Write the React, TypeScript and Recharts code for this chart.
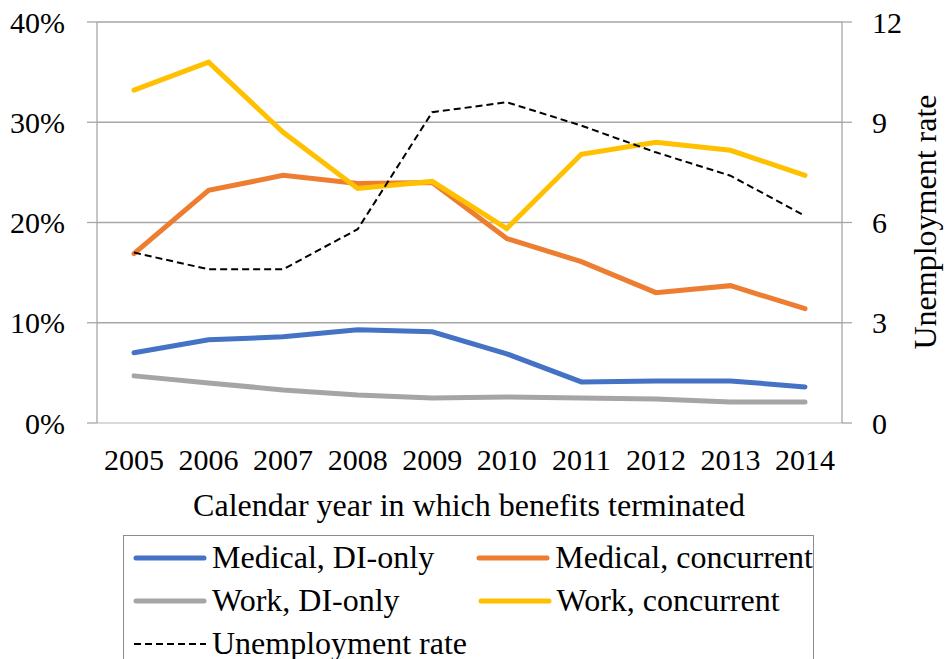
import { CartesianGrid, Legend, Line, LineChart, XAxis, YAxis } from "recharts";

const years = ["2005", "2006", "2007", "2008", "2009", "2010", "2011", "2012", "2013", "2014"];
const medicalDiOnly = [0.07, 0.083, 0.086, 0.093, 0.091, 0.069, 0.041, 0.042, 0.042, 0.036];
const medicalConcurrent = [0.169, 0.232, 0.247, 0.239, 0.24, 0.184, 0.161, 0.13, 0.137, 0.114];
const workDiOnly = [0.047, 0.04, 0.033, 0.028, 0.025, 0.026, 0.025, 0.024, 0.021, 0.021];
const workConcurrent = [0.332, 0.36, 0.29, 0.234, 0.241, 0.194, 0.268, 0.28, 0.272, 0.247];
const unemployment = [5.1, 4.6, 4.6, 5.8, 9.3, 9.6, 8.9, 8.1, 7.4, 6.2];

const leftTicks = [0, 0.1, 0.2, 0.3, 0.4];
const rightTicks = [0, 3, 6, 9, 12];

const data = years.map((year, i) => ({
	year,
	medicalDiOnly: medicalDiOnly[i],
	medicalConcurrent: medicalConcurrent[i],
	workDiOnly: workDiOnly[i],
	workConcurrent: workConcurrent[i],
	unemployment: unemployment[i],
}));

const FONT = "serif";
const TITLE_FONT = "Tinos";
const GRID = "#a6a6a6";

type LegendEntry = { label: string; color: string; dashed?: boolean };

const legendRows: LegendEntry[][] = [
	[
		{ label: "Medical, DI-only", color: "#4472c4" },
		{ label: "Medical, concurrent", color: "#ed7d31" },
	],
	[
		{ label: "Work, DI-only", color: "#a5a5a5" },
		{ label: "Work, concurrent", color: "#ffc000" },
	],
	[{ label: "Unemployment rate", color: "#000", dashed: true }],
];

function LegendSwatch({ entry }: { entry: LegendEntry }) {
	return (
		<svg width={74} height={12} style={{ marginRight: 5, flex: "none" }}>
			{entry.dashed ? (
				<line x1={1} y1={6} x2={73} y2={6} stroke="#000" strokeWidth={2} strokeDasharray="7 4" />
			) : (
				<line x1={3} y1={6} x2={71} y2={6} stroke={entry.color} strokeWidth={5} strokeLinecap="round" />
			)}
		</svg>
	);
}

function ChartLegend() {
	return (
		<div style={{ fontFamily: FONT, fontSize: 32, color: "#000" }}>
			{legendRows.map((row, r) => (
				<div key={r} style={{ display: "flex", height: 43, alignItems: "center" }}>
					{row.map((entry) => (
						<div key={entry.label} style={{ display: "flex", alignItems: "center", width: 347, paddingLeft: 9, boxSizing: "border-box" }}>
							<LegendSwatch entry={entry} />
							<span style={{ whiteSpace: "nowrap", lineHeight: "43px" }}>{entry.label}</span>
						</div>
					))}
				</div>
			))}
		</div>
	);
}

const tickStyle = { fontFamily: FONT, fontSize: 30, fill: "#000" };

export default function App() {
	return (
		<div style={{ position: "absolute", left: 0, top: 0, width: 946, height: 659, overflow: "hidden" }}>
			<LineChart width={946} height={659} data={data} margin={{ top: 22, right: 0, bottom: 136, left: 0 }}>
				<CartesianGrid vertical={false} stroke={GRID} strokeWidth={1.3} yAxisId="left" />
				<XAxis
					dataKey="year"
					height={100}
					padding={{ left: 37, right: 37 }}
					tickLine={false}
					tickSize={0}
					tickMargin={26}
					axisLine={{ stroke: "#d9d9d9", strokeWidth: 2 }}
					tick={tickStyle}
					interval={0}
					label={{
						content: () => (
							<text x={469} y={516} textAnchor="middle" fontFamily={TITLE_FONT} fontSize={32} fill="#000">
								Calendar year in which benefits terminated
							</text>
						),
					}}
				/>
				<YAxis
					yAxisId="left"
					width={97}
					domain={[0, 0.4]}
					ticks={leftTicks}
					tickFormatter={(v: number) => `${Math.round(v * 100)}%`}
					tick={tickStyle}
					tickSize={10}
					tickMargin={22}
					tickLine={{ stroke: GRID, strokeWidth: 1.3 }}
					axisLine={{ stroke: GRID, strokeWidth: 1.3 }}
				/>
				<YAxis
					yAxisId="right"
					orientation="right"
					width={104}
					domain={[0, 12]}
					ticks={rightTicks}
					tick={tickStyle}
					tickSize={10}
					tickMargin={20}
					tickLine={{ stroke: GRID, strokeWidth: 1.3 }}
					axisLine={{ stroke: GRID, strokeWidth: 1.3 }}
					label={{
						content: () => (
							<text x={936} y={222} textAnchor="middle" transform="rotate(-90 936 222)" fontFamily={TITLE_FONT} fontSize={32} fill="#000">
								Unemployment rate
							</text>
						),
					}}
				/>
				<Line yAxisId="left" dataKey="medicalDiOnly" stroke="#4472c4" strokeWidth={5} dot={false} strokeLinecap="round" isAnimationActive={false} />
				<Line yAxisId="left" dataKey="medicalConcurrent" stroke="#ed7d31" strokeWidth={5} dot={false} strokeLinecap="round" isAnimationActive={false} />
				<Line yAxisId="left" dataKey="workDiOnly" stroke="#a5a5a5" strokeWidth={5} dot={false} strokeLinecap="round" isAnimationActive={false} />
				<Line yAxisId="left" dataKey="workConcurrent" stroke="#ffc000" strokeWidth={5} dot={false} strokeLinecap="round" isAnimationActive={false} />
				<Line yAxisId="right" dataKey="unemployment" stroke="#000" strokeWidth={2} strokeDasharray="7 4" dot={false} isAnimationActive={false} />
				<Legend
					layout="horizontal"
					align="center"
					verticalAlign="middle"
					content={() => <ChartLegend />}
					wrapperStyle={{ left: 123, top: 535, width: 691, height: 140, border: "1.5px solid #8c8c8c", boxSizing: "border-box", background: "#fff" }}
				/>
			</LineChart>
		</div>
	);
}
